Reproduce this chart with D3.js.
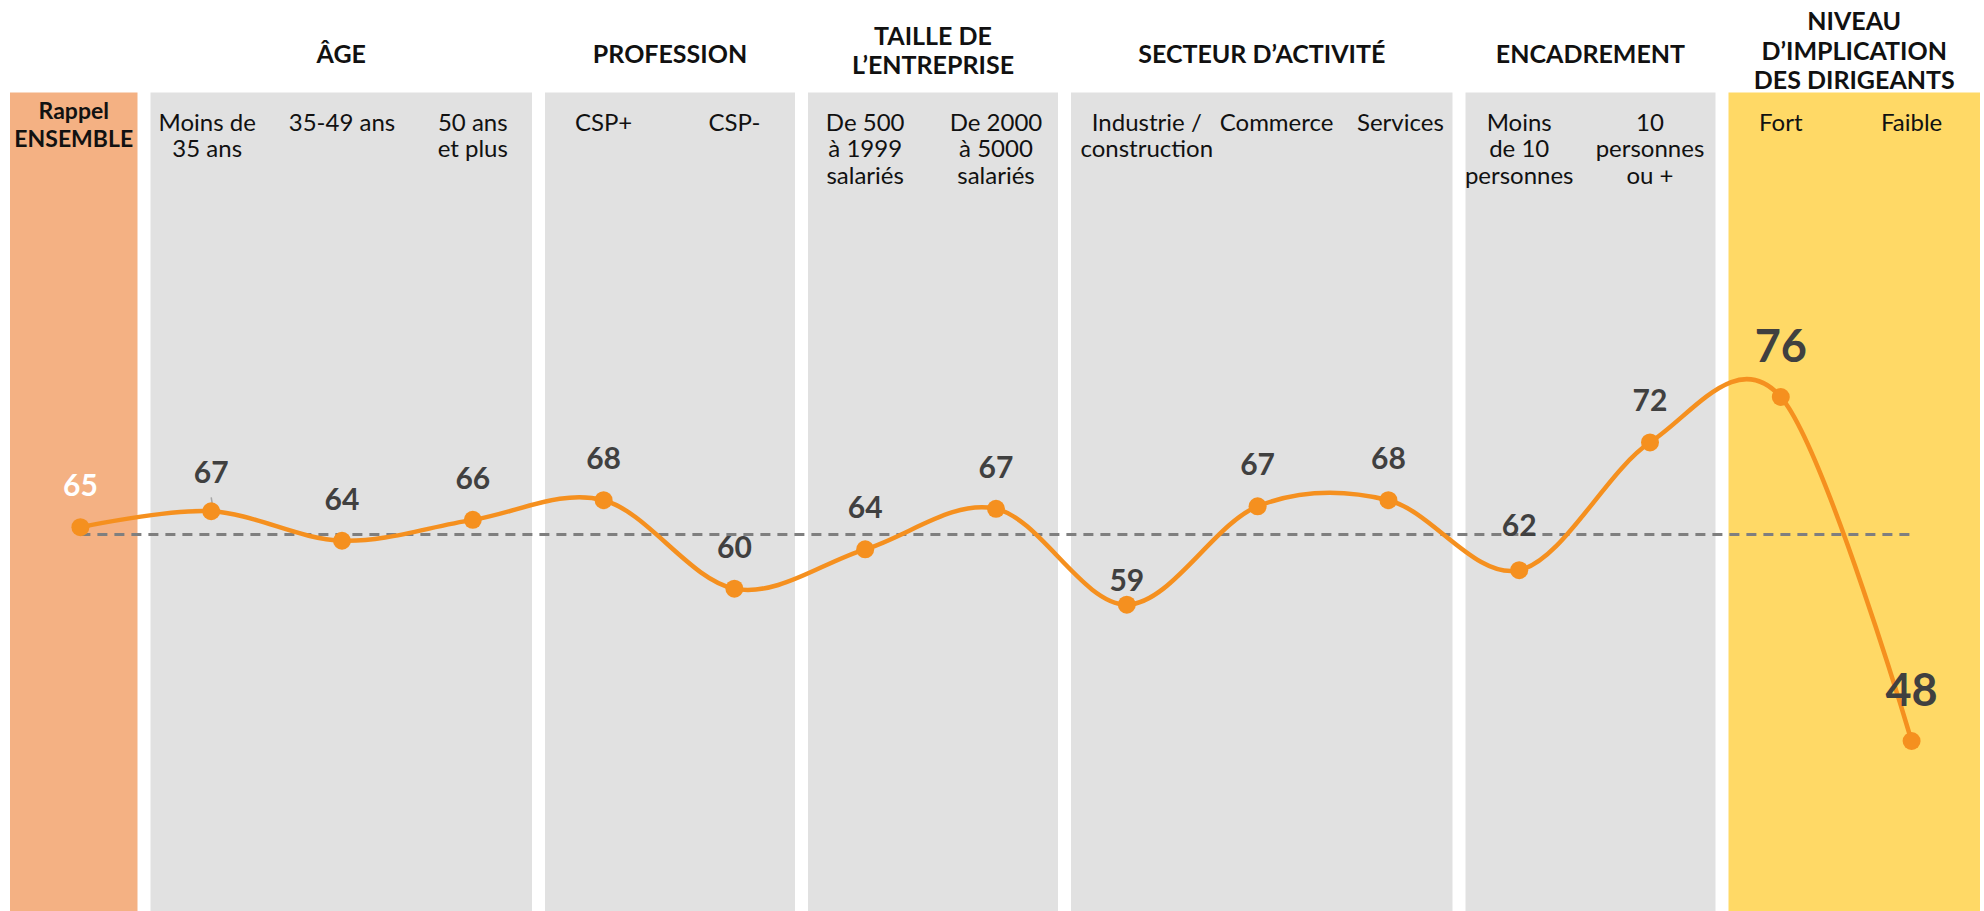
<!DOCTYPE html>
<html>
<head>
<meta charset="utf-8">
<script src="https://cdn.jsdelivr.net/npm/d3@7"></script>
<style>
  body { margin: 0; background: #fff; }
  text { font-family: Lato, 'Open Sans', sans-serif; }
</style>
</head>
<body>
<svg id="chart"></svg>
<script>
        // categories along the x axis (\n = line break in the label)
        const categories = ['Rappel\nENSEMBLE', 'Moins de\n35 ans', '35-49 ans', '50 ans\net plus',
            'CSP+', 'CSP-', 'De 500\nà 1999\nsalariés', 'De 2000\nà 5000\nsalariés',
            'Industrie /\nconstruction', 'Commerce', 'Services',
            'Moins\nde 10\npersonnes', '10\npersonnes\nou +', 'Fort', 'Faible']

        // scores (labels show them rounded)
        const scores = [65.4, 66.7, 64.3, 66.0, 67.6, 60.4, 63.6, 66.9, 59.1, 67.1, 67.6, 61.9, 72.3, 76, 48]

        // the dashed "ensemble" reference line
        const ensemble = 64.8

        // column groups and how many categories each one covers
        const groups = ['', 'ÂGE', 'PROFESSION', 'TAILLE DE\nL’ENTREPRISE', 'SECTEUR D’ACTIVITÉ',
            'ENCADREMENT', 'NIVEAU\nD’IMPLICATION\nDES DIRIGEANTS']
        const groupSizes = [1, 3, 2, 2, 3, 2, 2]

        const orange = '#F5901F'
        const w = 1984
        const h = 911
        const n = categories.length
        const boxTop = 92.5

        let svg = d3.select('#chart')
            .attr('width', w)
            .attr('height', h)

        svg.append('rect').attr('width', w).attr('height', h).attr('fill', '#fff')

        let x = d3.scalePoint().domain(d3.range(n)).range([15, 1977]).padding(0.5)
        let y = d3.scaleLinear().domain([48, 76]).range([741, 397])
        // column boxes sit on their own grid of boundaries
        let bx = d3.scaleLinear().domain([0, n]).range([12.5, 1985])

        let start = 0
        const groupData = groups.map((g, i) => {
            let d = { title: g, start: start, end: start + groupSizes[i], i: i }
            start += groupSizes[i]
            return d
        })
        groupData.forEach(d => {
            d.left = d.start === 0 ? 10 : bx(d.start) + 6.5
            d.right = d.end === n ? 1980 : bx(d.end) - 6.5
            d.cx = (d.left + d.right) / 2
        })

        // background columns
        svg.append('g').selectAll('rect')
            .data(groupData)
            .enter().append('rect')
                .attr('x', d => d.left)
                .attr('y', boxTop)
                .attr('width', d => d.right - d.left)
                .attr('height', h - boxTop)
                .attr('fill', (d, i) => i === 0 ? '#F4B183' : i === groupData.length - 1 ? '#FFD966' : '#E1E1E1')

        // group titles
        let titles = svg.append('g').selectAll('text')
            .data(groupData.filter(d => d.title))
            .enter().append('text')
                .attr('text-anchor', 'middle')
                .attr('font-weight', 700)
                .attr('font-size', 25)
                .attr('fill', '#111')

        titles.each(function(d) {
            let lines = d.title.split('\n')
            let lineH = 29.8
            let y0 = lines.length === 1 ? 63.3 : 59.5 - (lines.length - 1) * lineH / 2
            d3.select(this).selectAll('tspan')
                .data(lines)
                .enter().append('tspan')
                    .attr('x', d.cx)
                    .attr('y', (l, j) => y0 + j * lineH)
                    .text(l => l)
        })

        // category labels, a few nudged to fit in their box
        const labelShift = { 1: -4, 8: 20, 9: 19, 10: 12 }
        let catLabels = svg.append('g').selectAll('text')
            .data(categories)
            .enter().append('text')
                .attr('text-anchor', 'middle')
                .attr('font-size', (d, i) => i === 0 ? 23 : 24)
                .attr('font-weight', (d, i) => i === 0 ? 700 : 400)
                .attr('fill', '#111')

        catLabels.each(function(d, i) {
            let lines = d.split('\n')
            let cx = i === 0 ? groupData[0].cx : x(i) + (labelShift[i] || 0)
            let y0 = i === 0 ? 119 : 131
            let lineH = i === 0 ? 27.7 : 26.4
            d3.select(this).selectAll('tspan')
                .data(lines)
                .enter().append('tspan')
                    .attr('x', cx)
                    .attr('y', (l, j) => y0 + j * lineH)
                    .text(l => l)
        })

        // dashed reference line
        svg.append('line')
            .attr('x1', x(0))
            .attr('x2', x(n - 1))
            .attr('y1', y(ensemble))
            .attr('y2', y(ensemble))
            .attr('stroke', '#7F7F7F')
            .attr('stroke-width', 3)
            .attr('stroke-dasharray', '10,7')

        // smoothed score line
        let line = d3.line()
            .x((d, i) => x(i))
            .y(d => y(d))
            .curve(d3.curveCardinal.tension(0))

        svg.append('path')
            .datum(scores)
            .attr('d', line)
            .attr('fill', 'none')
            .attr('stroke', orange)
            .attr('stroke-width', 4.5)

        // label leader line on the first age point
        svg.append('line')
            .attr('x1', x(1))
            .attr('y1', y(scores[1]) - 14)
            .attr('x2', x(1) + 2)
            .attr('y2', y(scores[1]) - 2)
            .attr('stroke', '#A6A6A6')
            .attr('stroke-width', 1.5)

        svg.append('g').selectAll('circle')
            .data(scores)
            .enter().append('circle')
                .attr('cx', (d, i) => x(i))
                .attr('cy', d => y(d))
                .attr('r', 9)
                .attr('fill', orange)

        // value labels
        const labelNudge = { 1: 3, 8: 17, 11: -3 }
        const bigFrom = n - groupSizes[groupSizes.length - 1]
        svg.append('g').selectAll('text')
            .data(scores)
            .enter().append('text')
                .attr('x', (d, i) => x(i))
                .attr('y', (d, i) => y(d) + (i >= bigFrom ? -35 : -31) + (labelNudge[i] || 0))
                .attr('text-anchor', 'middle')
                .attr('font-weight', 700)
                .attr('font-size', (d, i) => i >= bigFrom ? 45 : 30)
                .attr('fill', (d, i) => i === 0 ? '#fff' : '#404040')
                .text(d => Math.round(d))
</script>
</body>
</html>
